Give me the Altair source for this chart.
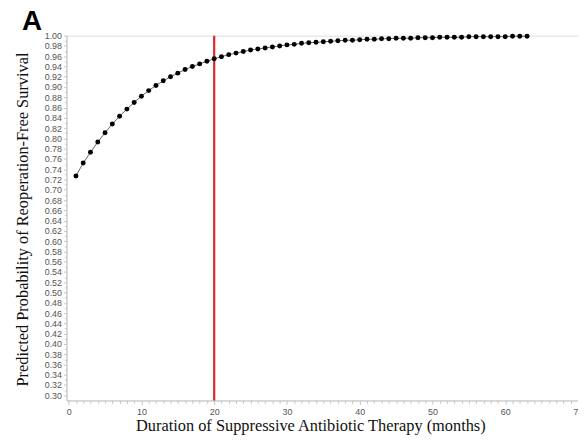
import altair as alt
import pandas as pd

months = list(range(1, 64))
survival = [
    0.727, 0.752, 0.773, 0.793, 0.811, 0.828, 0.843, 0.857, 0.870, 0.882,
    0.893, 0.903, 0.912, 0.920, 0.927, 0.934, 0.940, 0.945, 0.950, 0.955,
    0.959, 0.963, 0.966, 0.969, 0.972, 0.974, 0.976, 0.978, 0.980, 0.982,
    0.983, 0.985, 0.986, 0.987, 0.988, 0.989, 0.990, 0.991, 0.991, 0.992,
    0.993, 0.993, 0.994, 0.994, 0.995, 0.995, 0.995, 0.996, 0.996, 0.996,
    0.997, 0.997, 0.997, 0.997, 0.998, 0.998, 0.998, 0.998, 0.998, 0.998,
    0.999, 0.999, 0.999,
]
cutoff = [20]
x_ticks = list(range(0, 71))
y_ticks = [round(0.30 + 0.01 * i, 2) for i in range(71)]

df = pd.DataFrame({"month": months, "surv": survival})
cut_df = pd.DataFrame({"m": cutoff})

W, H = 516, 368
axis_gray = "#c4c4c4"
label_gray = "#555555"

x_scale = alt.Scale(domain=[-0.3, 70], nice=False, zero=False)
y_scale = alt.Scale(domain=[0.29, 1.0], nice=False, zero=False)

x_axis = alt.Axis(
    values=x_ticks,
    tickCount=200,
    labelExpr="datum.value % 10 == 0 ? format(datum.value, 'd') : ''",
    tickSize={"condition": {"test": "datum.value % 10 == 0", "value": 4}, "value": 3},
    tickColor=axis_gray,
    domainColor=axis_gray,
    labelColor=label_gray,
    labelFont="Liberation Sans",
    labelFontSize=9,
    labelPadding=3,
    labelFlush=False,
    labelOverlap=False,
    grid=False,
    title="Duration of Suppressive Antibiotic Therapy (months)",
    titleFont="Liberation Serif",
    titleFontSize=16.5,
    titleFontWeight="normal",
    titleColor="#111111",
    titleBaseline="alphabetic",
    titleAnchor="middle",
    titleX=246,
    titleY=30,
)

y_axis = alt.Axis(
    values=y_ticks,
    tickCount=200,
    labelExpr="round(datum.value * 100) % 2 == 0 ? format(datum.value, '.2f') : ''",
    tickSize={"condition": {"test": "round(datum.value * 100) % 2 == 0", "value": 3}, "value": 2},
    tickColor=axis_gray,
    domainColor=axis_gray,
    labelColor=label_gray,
    labelFont="Liberation Sans",
    labelFontSize=9,
    labelPadding=2,
    labelFlush=False,
    labelOverlap=False,
    grid=False,
    title="Predicted Probability of Reoperation-Free Survival",
    titleFont="Liberation Serif",
    titleFontSize=16.5,
    titleFontWeight="normal",
    titleColor="#111111",
    titleAngle=270,
    titleBaseline="alphabetic",
    titleAlign="center",
    titleX=-39.5,
    titleY=H / 2 + 1,
)

base = alt.Chart(df)

line = base.mark_line(color="#666666", strokeWidth=1).encode(
    x=alt.X("month:Q", scale=x_scale, axis=x_axis),
    y=alt.Y("surv:Q", scale=y_scale, axis=y_axis),
)
points = base.mark_point(filled=True, color="#000000", size=25, opacity=1).encode(
    x=alt.X("month:Q", scale=x_scale),
    y=alt.Y("surv:Q", scale=y_scale),
)
rule = alt.Chart(cut_df).mark_rule(color="#e3232b", strokeWidth=2.2).encode(
    x=alt.X("m:Q", scale=x_scale),
)

chart = (
    alt.layer(line, rule, points)
    .properties(
        width=W,
        height=H,
        autosize="none",
        padding={"left": 59, "top": 26, "right": 0, "bottom": 34},
        title=alt.TitleParams(
            "A",
            anchor="start",
            frame="group",
            font="Liberation Sans",
            fontSize=28,
            fontWeight="bold",
            color="#000000",
            baseline="alphabetic",
            dx=-45,
            dy=26,
            offset=0,
        ),
    )
    .configure_view(stroke="#c8c8c8", strokeWidth=1)
    .configure(background="white")
)

chart.save("out.html", embed_options={"renderer": "svg", "actions": False})
